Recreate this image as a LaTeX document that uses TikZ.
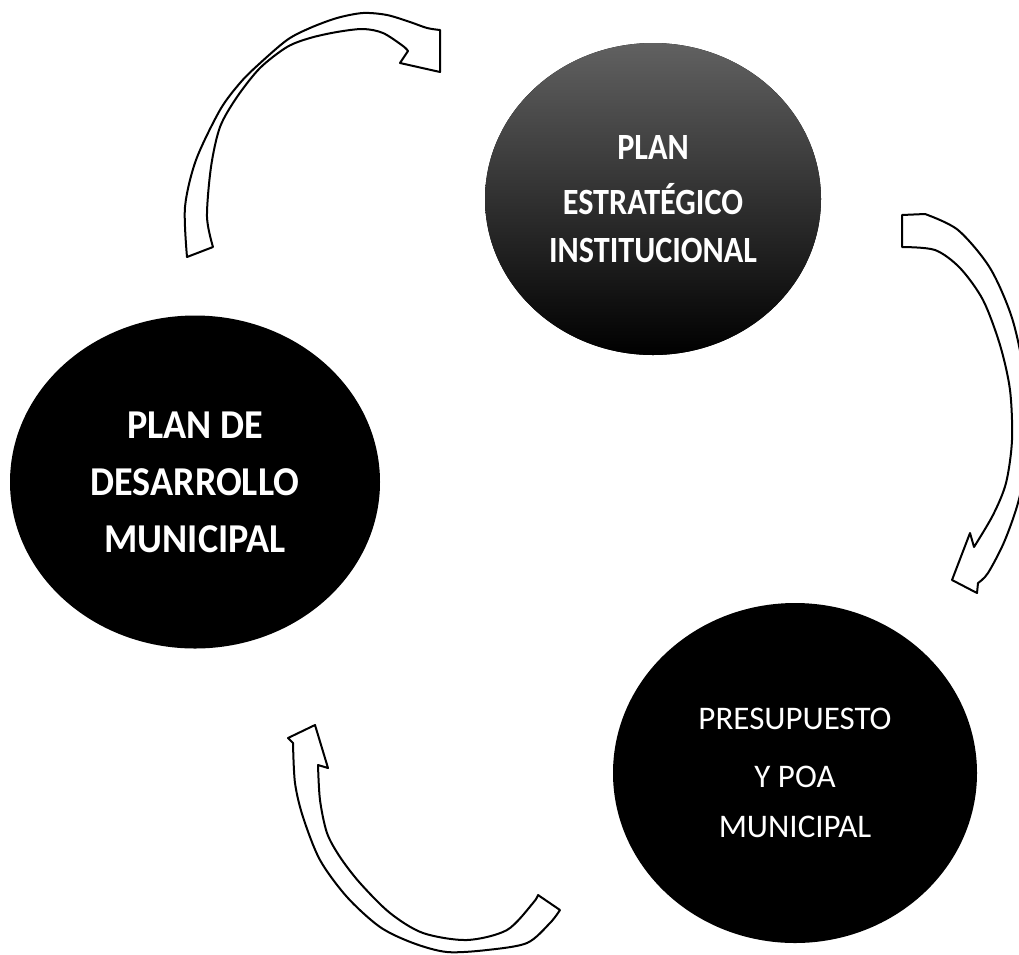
\documentclass[tikz,border=0pt]{standalone}
\usepackage{fontspec}
\setmainfont{Carlito}
\newfontfamily\condA[FakeStretch=0.87]{Carlito}
\newfontfamily\condB[FakeStretch=0.93]{Carlito}
\usetikzlibrary{shapes.geometric}
\begin{document}
\begin{tikzpicture}[x=1pt,y=-1pt,
  disc/.style={ellipse, fill=black, text=white, inner sep=0pt, align=center},
  cyclearrow/.style={fill=white, draw=black, line width=2pt, line join=round}]
\useasboundingbox (0,0) rectangle (1019,954);

% nodes
\node[disc, minimum width=336pt, minimum height=312pt,
      top color=black!62, middle color=black, bottom color=black,
      font=\condA\bfseries\fontsize{37}{48}\selectfont]
  (pei) at (653,199) {PLAN\\[7pt]ESTRATÉGICO\\INSTITUCIONAL};
\node[disc, minimum width=370pt, minimum height=333pt,
      font=\condB\bfseries\fontsize{41}{57}\selectfont]
  (pdm) at (195,482) {PLAN DE\\DESARROLLO\\MUNICIPAL};
\node[disc, minimum width=364pt, minimum height=340pt,
      font=\fontsize{33}{50}\selectfont]
  (ppm) at (795,773) {PRESUPUESTO\\[8pt]Y POA\\MUNICIPAL};

% arrow from PDM to PEI (top left)
\coordinate (a1tail) at (187,257);
\coordinate (a1head) at (440,30);
\filldraw[cyclearrow] (a1tail)
  -- plot[smooth, tension=0.5] coordinates {(187,257)(185,207)(196,160)(220,110)(240,83)(258,65)(287,40)(310,28)(337,18)(363,13)(387,15)(410,22)(427,28)(440,30)}
  -- (440,72) -- (400,63) -- (408,51)
  -- plot[smooth, tension=0.5] coordinates {(408,51)(403,46)(383,33)(363,29)(337,32)(310,38)(287,47)(260,68)(237,97)(220,127)(211,167)(207,217)(213,247)}
  -- cycle;

% arrow from PEI to PPM (right)
\coordinate (a2tail) at (902,215);
\filldraw[cyclearrow] (a2tail) -- (925,214)
  -- plot[smooth, tension=0.5] coordinates {(925,214)(958,230)(990,268)(1012,318)(1024,375)(1027,440)(1020,495)(1005,540)(988,573)(978,583)}
  -- (977,593) -- (952,580) -- (970,533) -- (974,547)
  -- plot[smooth, tension=0.5] coordinates {(974,547)(993,515)(1006,483)(1012,440)(1010,390)(1000,345)(983,300)(960,268)(935,250)(902,247)}
  -- cycle;

% arrow from PPM to PDM (bottom)
\coordinate (a3head) at (315,725);
\filldraw[cyclearrow] (288,738) -- (a3head) -- (328,768) -- (318,765)
  -- plot[smooth, tension=0.5] coordinates {(318,765)(320,800)(327,833)(340,857)(360,883)(390,913)(423,933)(467,940)(507,930)(533,903)(538,895)}
  -- (560,910)
  -- plot[smooth, tension=0.5] coordinates {(560,910)(550,923)(527,943)(487,950)(447,952)(413,943)(380,927)(347,897)(320,860)(303,817)(295,783)(293,743)}
  -- cycle;
\end{tikzpicture}
\end{document}
